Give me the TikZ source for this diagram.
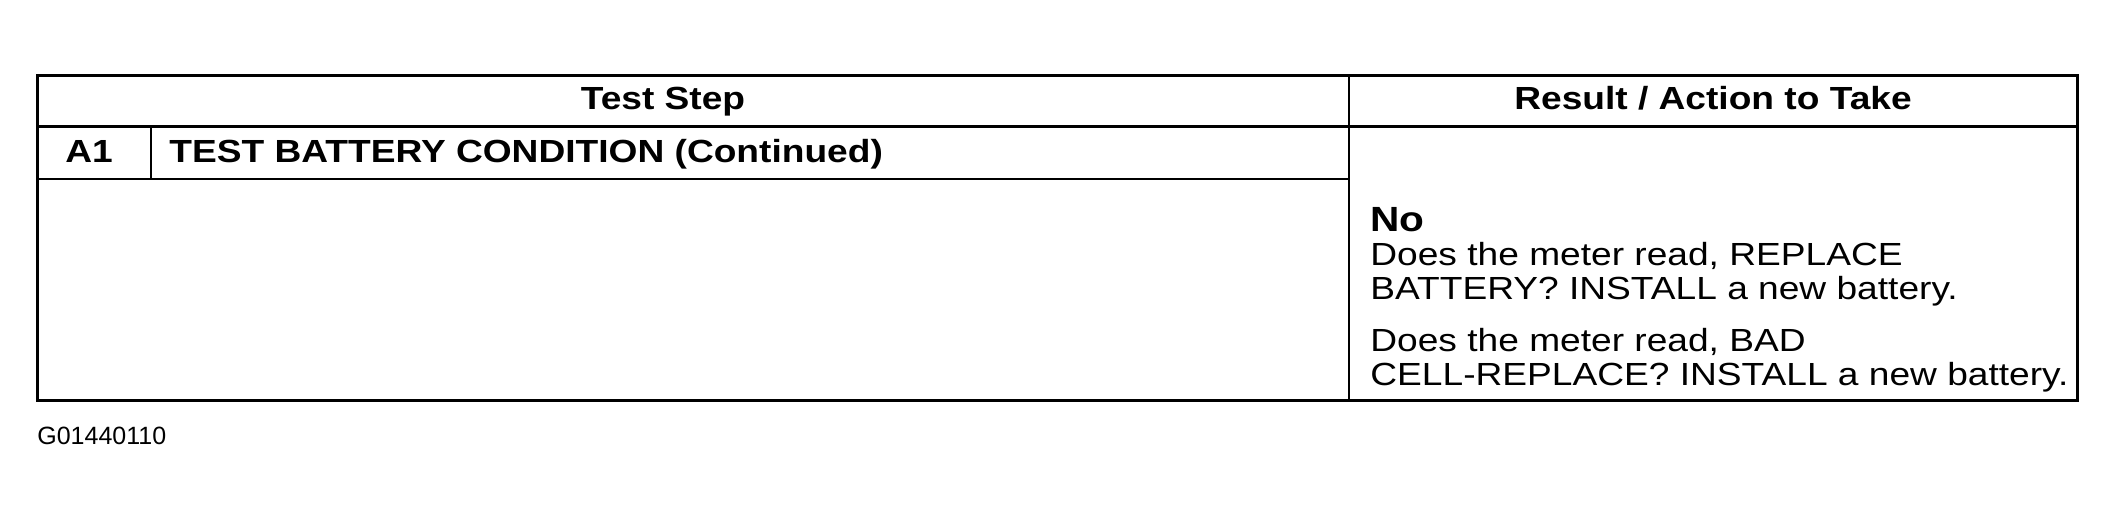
\documentclass[tikz,border=0pt]{standalone}
\usepackage{fontspec}
\setmainfont{Liberation Sans}[FakeStretch=1.16]
\newfontfamily\codefont{Liberation Sans}
\usetikzlibrary{positioning}

\tikzset{
  frame/.style={line width=1.5pt},
  rule/.style={line width=1pt},
  head/.style={inner sep=0pt, font=\fontsize{16}{19}\selectfont\bfseries},
  body/.style={inner sep=0pt, anchor=base west, font=\fontsize{16}{19}\selectfont},
}

\begin{document}
\begin{tikzpicture}[x=0.5pt, y=0.5pt]
    \useasboundingbox (0,0) rectangle (2116,522);

    % table frame and rules
    \draw[frame] (37,446) rectangle (2077,121);
    \draw[frame] (37,395) -- (2077,395);
    \draw[rule] (37,343) -- (1349,343);
    \draw[rule] (1349,446) -- (1349,121);
    \draw[rule] (151,395) -- (151,343);

    % header row
    \node[head, anchor=base] (step) at (663,412) {Test Step};
    \node[head, anchor=base] (result) at (1713,412) {Result / Action to Take};

    % step row
    \node[head, anchor=base west] (id) at (65,359) {A1};
    \node[head, anchor=base west] (title) at (169,359) {TEST BATTERY CONDITION (Continued)};

    % result cell
    \node[head, anchor=base west, font=\fontsize{17.5}{20}\selectfont\bfseries] (no) at (1370,290) {No};
    \node[body] (ansa) at (1370,256) {Does the meter read, REPLACE};
    \node[body] (ansb) at (1370,222) {BATTERY? INSTALL a new battery.};
    \node[body] (ansc) at (1370,170) {Does the meter read, BAD};
    \node[body] (ansd) at (1370,136) {CELL-REPLACE? INSTALL a new battery.};

    \node[inner sep=0pt, anchor=base west, font=\codefont\fontsize{12.5}{14}\selectfont] (fig) at (37,77) {G01440110};
\end{tikzpicture}
\end{document}
